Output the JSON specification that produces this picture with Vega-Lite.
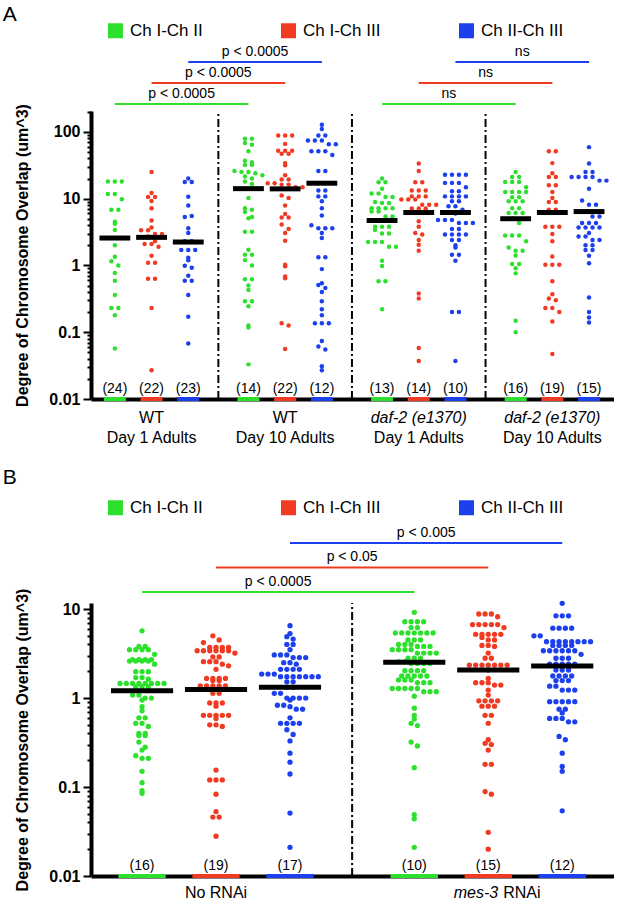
{
  "$schema": "https://vega.github.io/schema/vega-lite/v6.json",
  "padding": {"left": 2, "top": 4, "right": 0, "bottom": 0},
  "config": {
    "view": {"stroke": null},
    "font": "Liberation Sans",
    "text": {"color": "black"},
    "title": {"fontSize": 21, "fontWeight": "normal", "anchor": "start", "color": "black"}
  },
  "datasets": {
    "pA": [
      {"c":0,"v":18},{"c":0,"v":18},{"c":0,"v":18},{"c":0,"v":11.7},{"c":0,"v":11.7},{"c":0,"v":9.8},{"c":0,"v":6.8},{"c":0,"v":6.8},{"c":0,"v":4.5},{"c":0,"v":4.2},{"c":0,"v":3.4},{"c":0,"v":2.0},{"c":0,"v":1.35},{"c":0,"v":1.15},{"c":0,"v":1.0},{"c":0,"v":0.77},{"c":0,"v":0.59},{"c":0,"v":0.36},{"c":0,"v":0.23},{"c":0,"v":0.23},{"c":0,"v":0.18},{"c":0,"v":0.057},
      {"c":1,"v":25},{"c":1,"v":12.1},{"c":1,"v":10.6},{"c":1,"v":10.6},{"c":1,"v":9.2},{"c":1,"v":7.2},{"c":1,"v":4.7},{"c":1,"v":3.7},{"c":1,"v":3.35},{"c":1,"v":3.35},{"c":1,"v":2.95},{"c":1,"v":2.95},{"c":1,"v":2.7},{"c":1,"v":2.3},{"c":1,"v":2.1},{"c":1,"v":2.1},{"c":1,"v":1.9},{"c":1,"v":1.4},{"c":1,"v":1.1},{"c":1,"v":1.1},{"c":1,"v":0.63},{"c":1,"v":0.63},{"c":1,"v":0.23},{"c":1,"v":0.027},
      {"c":2,"v":20},{"c":2,"v":17.8},{"c":2,"v":17.8},{"c":2,"v":10.7},{"c":2,"v":7.9},{"c":2,"v":5.3},{"c":2,"v":5.5},{"c":2,"v":3.6},{"c":2,"v":3.05},{"c":2,"v":2.3},{"c":2,"v":2.3},{"c":2,"v":1.7},{"c":2,"v":1.7},{"c":2,"v":1.7},{"c":2,"v":1.3},{"c":2,"v":1.19},{"c":2,"v":0.99},{"c":2,"v":0.92},{"c":2,"v":0.7},{"c":2,"v":0.59},{"c":2,"v":0.59},{"c":2,"v":0.36},{"c":2,"v":0.17},{"c":2,"v":0.068},
      {"c":3,"v":79},{"c":3,"v":79},{"c":3,"v":68},{"c":3,"v":64},{"c":3,"v":51},{"c":3,"v":37},{"c":3,"v":35},{"c":3,"v":32},{"c":3,"v":32},{"c":3,"v":26},{"c":3,"v":25},{"c":3,"v":25},{"c":3,"v":24},{"c":3,"v":22.4},{"c":3,"v":21.4},{"c":3,"v":20},{"c":3,"v":18},{"c":3,"v":16.6},{"c":3,"v":10.2},{"c":3,"v":7.2},{"c":3,"v":6.8},{"c":3,"v":6.3},{"c":3,"v":5.1},{"c":3,"v":5.3},{"c":3,"v":3.2},{"c":3,"v":3.2},{"c":3,"v":1.72},{"c":3,"v":1.44},{"c":3,"v":1.44},{"c":3,"v":1.2},{"c":3,"v":1.0},{"c":3,"v":0.62},{"c":3,"v":0.62},{"c":3,"v":0.5},{"c":3,"v":0.43},{"c":3,"v":0.29},{"c":3,"v":0.29},{"c":3,"v":0.245},{"c":3,"v":0.126},{"c":3,"v":0.118},{"c":3,"v":0.033},
      {"c":4,"v":88},{"c":4,"v":88},{"c":4,"v":88},{"c":4,"v":66},{"c":4,"v":52},{"c":4,"v":52},{"c":4,"v":52},{"c":4,"v":47},{"c":4,"v":47},{"c":4,"v":34},{"c":4,"v":31.6},{"c":4,"v":22.4},{"c":4,"v":19.3},{"c":4,"v":19.3},{"c":4,"v":17},{"c":4,"v":17},{"c":4,"v":16.2},{"c":4,"v":16.2},{"c":4,"v":14.8},{"c":4,"v":14.8},{"c":4,"v":11.1},{"c":4,"v":10.2},{"c":4,"v":7.9},{"c":4,"v":5.9},{"c":4,"v":5.2},{"c":4,"v":5.2},{"c":4,"v":4.1},{"c":4,"v":3.5},{"c":4,"v":3.05},{"c":4,"v":2.34},{"c":4,"v":1.02},{"c":4,"v":0.97},{"c":4,"v":0.68},{"c":4,"v":0.64},{"c":4,"v":0.136},{"c":4,"v":0.126},{"c":4,"v":0.056},
      {"c":5,"v":128},{"c":5,"v":110},{"c":5,"v":88},{"c":5,"v":88},{"c":5,"v":74},{"c":5,"v":74},{"c":5,"v":74},{"c":5,"v":65},{"c":5,"v":65},{"c":5,"v":51},{"c":5,"v":51},{"c":5,"v":51},{"c":5,"v":45},{"c":5,"v":26},{"c":5,"v":26},{"c":5,"v":13.2},{"c":5,"v":13.2},{"c":5,"v":10.8},{"c":5,"v":10.8},{"c":5,"v":9.1},{"c":5,"v":7.2},{"c":5,"v":5.6},{"c":5,"v":4.0},{"c":5,"v":3.6},{"c":5,"v":3.6},{"c":5,"v":3.6},{"c":5,"v":3.05},{"c":5,"v":2.57},{"c":5,"v":1.32},{"c":5,"v":1.32},{"c":5,"v":0.88},{"c":5,"v":0.54},{"c":5,"v":0.51},{"c":5,"v":0.46},{"c":5,"v":0.40},{"c":5,"v":0.29},{"c":5,"v":0.22},{"c":5,"v":0.18},{"c":5,"v":0.136},{"c":5,"v":0.136},{"c":5,"v":0.136},{"c":5,"v":0.074},{"c":5,"v":0.061},{"c":5,"v":0.055},{"c":5,"v":0.031},{"c":5,"v":0.027},
      {"c":6,"v":20},{"c":6,"v":17.6},{"c":6,"v":17.6},{"c":6,"v":14.1},{"c":6,"v":11.9},{"c":6,"v":11.9},{"c":6,"v":10.6},{"c":6,"v":10.6},{"c":6,"v":8.9},{"c":6,"v":8.6},{"c":6,"v":8.6},{"c":6,"v":7.2},{"c":6,"v":7.2},{"c":6,"v":7.2},{"c":6,"v":7.2},{"c":6,"v":6.4},{"c":6,"v":6.4},{"c":6,"v":5.4},{"c":6,"v":5.4},{"c":6,"v":3.8},{"c":6,"v":3.8},{"c":6,"v":3.8},{"c":6,"v":3.4},{"c":6,"v":3.0},{"c":6,"v":3.0},{"c":6,"v":2.24},{"c":6,"v":2.24},{"c":6,"v":2.24},{"c":6,"v":1.9},{"c":6,"v":1.9},{"c":6,"v":1.17},{"c":6,"v":0.98},{"c":6,"v":0.58},{"c":6,"v":0.58},{"c":6,"v":0.22},
      {"c":7,"v":33.5},{"c":7,"v":26},{"c":7,"v":17.6},{"c":7,"v":17.6},{"c":7,"v":13.2},{"c":7,"v":13.2},{"c":7,"v":13.2},{"c":7,"v":10.8},{"c":7,"v":10.8},{"c":7,"v":10.8},{"c":7,"v":9.7},{"c":7,"v":9.7},{"c":7,"v":9.7},{"c":7,"v":8.1},{"c":7,"v":8.1},{"c":7,"v":8.1},{"c":7,"v":7.1},{"c":7,"v":7.1},{"c":7,"v":7.1},{"c":7,"v":6.3},{"c":7,"v":6.3},{"c":7,"v":4.6},{"c":7,"v":3.8},{"c":7,"v":3.05},{"c":7,"v":2.9},{"c":7,"v":2.4},{"c":7,"v":2.04},{"c":7,"v":1.66},{"c":7,"v":0.38},{"c":7,"v":0.32},{"c":7,"v":0.058},{"c":7,"v":0.037},
      {"c":8,"v":22.7},{"c":8,"v":22.7},{"c":8,"v":22.7},{"c":8,"v":22.7},{"c":8,"v":17.2},{"c":8,"v":17.2},{"c":8,"v":17.2},{"c":8,"v":14.8},{"c":8,"v":12.9},{"c":8,"v":12.9},{"c":8,"v":10.8},{"c":8,"v":10.8},{"c":8,"v":10.8},{"c":8,"v":10.8},{"c":8,"v":9.1},{"c":8,"v":9.1},{"c":8,"v":7.7},{"c":8,"v":7.7},{"c":8,"v":6.8},{"c":8,"v":6.0},{"c":8,"v":4.8},{"c":8,"v":4.8},{"c":8,"v":4.8},{"c":8,"v":4.3},{"c":8,"v":4.3},{"c":8,"v":4.3},{"c":8,"v":3.5},{"c":8,"v":3.5},{"c":8,"v":2.9},{"c":8,"v":2.9},{"c":8,"v":2.9},{"c":8,"v":2.9},{"c":8,"v":2.4},{"c":8,"v":2.4},{"c":8,"v":2.0},{"c":8,"v":1.86},{"c":8,"v":1.44},{"c":8,"v":1.44},{"c":8,"v":1.17},{"c":8,"v":0.2},{"c":8,"v":0.2},{"c":8,"v":0.037},
      {"c":9,"v":25},{"c":9,"v":21},{"c":9,"v":21},{"c":9,"v":17.8},{"c":9,"v":17.8},{"c":9,"v":17.8},{"c":9,"v":14.8},{"c":9,"v":12.6},{"c":9,"v":12.6},{"c":9,"v":12.6},{"c":9,"v":12.6},{"c":9,"v":10.5},{"c":9,"v":10.5},{"c":9,"v":9.1},{"c":9,"v":9.1},{"c":9,"v":9.1},{"c":9,"v":7.2},{"c":9,"v":7.2},{"c":9,"v":6.1},{"c":9,"v":6.1},{"c":9,"v":6.1},{"c":9,"v":5.1},{"c":9,"v":4.3},{"c":9,"v":2.8},{"c":9,"v":2.8},{"c":9,"v":2.8},{"c":9,"v":2.3},{"c":9,"v":1.86},{"c":9,"v":1.66},{"c":9,"v":1.66},{"c":9,"v":1.41},{"c":9,"v":1.05},{"c":9,"v":1.05},{"c":9,"v":0.91},{"c":9,"v":0.76},{"c":9,"v":0.148},{"c":9,"v":0.10},
      {"c":10,"v":51},{"c":10,"v":51},{"c":10,"v":34},{"c":10,"v":24},{"c":10,"v":21},{"c":10,"v":21},{"c":10,"v":15.8},{"c":10,"v":15.8},{"c":10,"v":12.6},{"c":10,"v":10.2},{"c":10,"v":8.9},{"c":10,"v":8.9},{"c":10,"v":6.8},{"c":10,"v":6.8},{"c":10,"v":3.8},{"c":10,"v":3.8},{"c":10,"v":3.8},{"c":10,"v":2.95},{"c":10,"v":2.3},{"c":10,"v":1.36},{"c":10,"v":1.02},{"c":10,"v":1.02},{"c":10,"v":1.02},{"c":10,"v":0.58},{"c":10,"v":0.37},{"c":10,"v":0.32},{"c":10,"v":0.30},{"c":10,"v":0.23},{"c":10,"v":0.23},{"c":10,"v":0.2},{"c":10,"v":0.145},{"c":10,"v":0.047},
      {"c":11,"v":59},{"c":11,"v":33.5},{"c":11,"v":25},{"c":11,"v":25},{"c":11,"v":21},{"c":11,"v":21},{"c":11,"v":21},{"c":11,"v":21},{"c":11,"v":18.6},{"c":11,"v":18.6},{"c":11,"v":14},{"c":11,"v":9.4},{"c":11,"v":8.1},{"c":11,"v":8.1},{"c":11,"v":6.4},{"c":11,"v":6.4},{"c":11,"v":5.4},{"c":11,"v":5.4},{"c":11,"v":4.3},{"c":11,"v":4.3},{"c":11,"v":4.3},{"c":11,"v":3.7},{"c":11,"v":3.7},{"c":11,"v":3.7},{"c":11,"v":3.7},{"c":11,"v":3.05},{"c":11,"v":2.7},{"c":11,"v":2.7},{"c":11,"v":2.4},{"c":11,"v":2.4},{"c":11,"v":2.0},{"c":11,"v":2.0},{"c":11,"v":1.7},{"c":11,"v":1.7},{"c":11,"v":1.4},{"c":11,"v":1.08},{"c":11,"v":0.33},{"c":11,"v":0.2},{"c":11,"v":0.166},{"c":11,"v":0.14}
    ],
    "pB": [
      {"c":0,"v":5.7},{"c":0,"v":3.8},{"c":0,"v":3.8},{"c":0,"v":3.5},{"c":0,"v":3.5},{"c":0,"v":3.5},{"c":0,"v":3.5},{"c":0,"v":3.1},{"c":0,"v":2.7},{"c":0,"v":2.7},{"c":0,"v":2.7},{"c":0,"v":2.7},{"c":0,"v":2.6},{"c":0,"v":2.6},{"c":0,"v":2.6},{"c":0,"v":2.6},{"c":0,"v":2.4},{"c":0,"v":1.98},{"c":0,"v":1.98},{"c":0,"v":1.98},{"c":0,"v":1.7},{"c":0,"v":1.7},{"c":0,"v":1.63},{"c":0,"v":1.46},{"c":0,"v":1.46},{"c":0,"v":1.46},{"c":0,"v":1.46},{"c":0,"v":1.46},{"c":0,"v":1.46},{"c":0,"v":1.46},{"c":0,"v":1.46},{"c":0,"v":1.34},{"c":0,"v":1.34},{"c":0,"v":1.34},{"c":0,"v":1.08},{"c":0,"v":1.08},{"c":0,"v":1.0},{"c":0,"v":1.0},{"c":0,"v":0.95},{"c":0,"v":0.8},{"c":0,"v":0.72},{"c":0,"v":0.6},{"c":0,"v":0.6},{"c":0,"v":0.52},{"c":0,"v":0.52},{"c":0,"v":0.48},{"c":0,"v":0.4},{"c":0,"v":0.4},{"c":0,"v":0.38},{"c":0,"v":0.38},{"c":0,"v":0.32},{"c":0,"v":0.28},{"c":0,"v":0.26},{"c":0,"v":0.225},{"c":0,"v":0.21},{"c":0,"v":0.21},{"c":0,"v":0.15},{"c":0,"v":0.112},{"c":0,"v":0.091},{"c":0,"v":0.085},
      {"c":1,"v":5.0},{"c":1,"v":4.5},{"c":1,"v":4.2},{"c":1,"v":3.7},{"c":1,"v":3.7},{"c":1,"v":3.7},{"c":1,"v":3.7},{"c":1,"v":3.4},{"c":1,"v":3.4},{"c":1,"v":3.4},{"c":1,"v":3.4},{"c":1,"v":3.4},{"c":1,"v":3.4},{"c":1,"v":3.2},{"c":1,"v":2.9},{"c":1,"v":2.9},{"c":1,"v":2.56},{"c":1,"v":2.56},{"c":1,"v":2.56},{"c":1,"v":2.4},{"c":1,"v":2.3},{"c":1,"v":2.1},{"c":1,"v":1.66},{"c":1,"v":1.66},{"c":1,"v":1.66},{"c":1,"v":1.66},{"c":1,"v":1.57},{"c":1,"v":1.57},{"c":1,"v":1.37},{"c":1,"v":1.37},{"c":1,"v":1.37},{"c":1,"v":1.37},{"c":1,"v":1.37},{"c":1,"v":1.25},{"c":1,"v":1.13},{"c":1,"v":1.13},{"c":1,"v":0.88},{"c":1,"v":0.88},{"c":1,"v":0.88},{"c":1,"v":0.81},{"c":1,"v":0.64},{"c":1,"v":0.64},{"c":1,"v":0.64},{"c":1,"v":0.64},{"c":1,"v":0.64},{"c":1,"v":0.59},{"c":1,"v":0.5},{"c":1,"v":0.5},{"c":1,"v":0.48},{"c":1,"v":0.155},{"c":1,"v":0.12},{"c":1,"v":0.12},{"c":1,"v":0.12},{"c":1,"v":0.083},{"c":1,"v":0.053},{"c":1,"v":0.046},{"c":1,"v":0.046},{"c":1,"v":0.028},
      {"c":2,"v":6.5},{"c":2,"v":5.3},{"c":2,"v":4.9},{"c":2,"v":4.6},{"c":2,"v":4.0},{"c":2,"v":4.0},{"c":2,"v":3.5},{"c":2,"v":3.05},{"c":2,"v":3.05},{"c":2,"v":3.05},{"c":2,"v":2.85},{"c":2,"v":2.85},{"c":2,"v":2.85},{"c":2,"v":2.5},{"c":2,"v":2.5},{"c":2,"v":2.4},{"c":2,"v":2.1},{"c":2,"v":2.1},{"c":2,"v":2.1},{"c":2,"v":2.1},{"c":2,"v":1.86},{"c":2,"v":1.86},{"c":2,"v":1.86},{"c":2,"v":1.74},{"c":2,"v":1.74},{"c":2,"v":1.74},{"c":2,"v":1.74},{"c":2,"v":1.74},{"c":2,"v":1.74},{"c":2,"v":1.74},{"c":2,"v":1.52},{"c":2,"v":1.52},{"c":2,"v":1.32},{"c":2,"v":1.32},{"c":2,"v":1.13},{"c":2,"v":1.13},{"c":2,"v":1.0},{"c":2,"v":1.0},{"c":2,"v":1.0},{"c":2,"v":1.0},{"c":2,"v":0.95},{"c":2,"v":0.83},{"c":2,"v":0.83},{"c":2,"v":0.8},{"c":2,"v":0.75},{"c":2,"v":0.75},{"c":2,"v":0.6},{"c":2,"v":0.52},{"c":2,"v":0.52},{"c":2,"v":0.52},{"c":2,"v":0.52},{"c":2,"v":0.44},{"c":2,"v":0.39},{"c":2,"v":0.33},{"c":2,"v":0.24},{"c":2,"v":0.19},{"c":2,"v":0.14},{"c":2,"v":0.051},{"c":2,"v":0.021},
      {"c":3,"v":9.2},{"c":3,"v":7.2},{"c":3,"v":7.2},{"c":3,"v":7.2},{"c":3,"v":7.2},{"c":3,"v":6.2},{"c":3,"v":6.2},{"c":3,"v":5.4},{"c":3,"v":5.4},{"c":3,"v":5.4},{"c":3,"v":5.4},{"c":3,"v":5.4},{"c":3,"v":5.4},{"c":3,"v":5.4},{"c":3,"v":4.5},{"c":3,"v":4.5},{"c":3,"v":4.5},{"c":3,"v":4.0},{"c":3,"v":4.0},{"c":3,"v":4.0},{"c":3,"v":3.8},{"c":3,"v":3.8},{"c":3,"v":3.8},{"c":3,"v":3.5},{"c":3,"v":3.5},{"c":3,"v":3.5},{"c":3,"v":3.5},{"c":3,"v":3.2},{"c":3,"v":3.2},{"c":3,"v":3.2},{"c":3,"v":3.2},{"c":3,"v":2.8},{"c":3,"v":2.8},{"c":3,"v":2.8},{"c":3,"v":2.57},{"c":3,"v":2.57},{"c":3,"v":2.45},{"c":3,"v":2.45},{"c":3,"v":2.45},{"c":3,"v":2.45},{"c":3,"v":2.03},{"c":3,"v":2.03},{"c":3,"v":2.03},{"c":3,"v":2.03},{"c":3,"v":1.77},{"c":3,"v":1.77},{"c":3,"v":1.77},{"c":3,"v":1.77},{"c":3,"v":1.77},{"c":3,"v":1.6},{"c":3,"v":1.6},{"c":3,"v":1.6},{"c":3,"v":1.49},{"c":3,"v":1.49},{"c":3,"v":1.49},{"c":3,"v":1.28},{"c":3,"v":1.28},{"c":3,"v":1.28},{"c":3,"v":1.28},{"c":3,"v":1.28},{"c":3,"v":1.18},{"c":3,"v":1.18},{"c":3,"v":1.18},{"c":3,"v":1.05},{"c":3,"v":0.77},{"c":3,"v":0.64},{"c":3,"v":0.58},{"c":3,"v":0.52},{"c":3,"v":0.49},{"c":3,"v":0.32},{"c":3,"v":0.29},{"c":3,"v":0.165},{"c":3,"v":0.049},{"c":3,"v":0.044},{"c":3,"v":0.021},
      {"c":4,"v":8.8},{"c":4,"v":8.8},{"c":4,"v":8.8},{"c":4,"v":8.2},{"c":4,"v":6.7},{"c":4,"v":6.7},{"c":4,"v":6.7},{"c":4,"v":6.7},{"c":4,"v":6.7},{"c":4,"v":6.2},{"c":4,"v":5.2},{"c":4,"v":5.2},{"c":4,"v":5.2},{"c":4,"v":5.2},{"c":4,"v":5.2},{"c":4,"v":4.8},{"c":4,"v":4.5},{"c":4,"v":4.5},{"c":4,"v":3.9},{"c":4,"v":3.9},{"c":4,"v":3.8},{"c":4,"v":3.2},{"c":4,"v":2.8},{"c":4,"v":2.8},{"c":4,"v":2.35},{"c":4,"v":2.35},{"c":4,"v":2.35},{"c":4,"v":2.35},{"c":4,"v":2.35},{"c":4,"v":2.35},{"c":4,"v":2.35},{"c":4,"v":2.06},{"c":4,"v":1.66},{"c":4,"v":1.49},{"c":4,"v":1.49},{"c":4,"v":1.49},{"c":4,"v":1.4},{"c":4,"v":1.4},{"c":4,"v":1.23},{"c":4,"v":1.08},{"c":4,"v":0.93},{"c":4,"v":0.93},{"c":4,"v":0.93},{"c":4,"v":0.93},{"c":4,"v":0.81},{"c":4,"v":0.81},{"c":4,"v":0.81},{"c":4,"v":0.64},{"c":4,"v":0.64},{"c":4,"v":0.52},{"c":4,"v":0.34},{"c":4,"v":0.31},{"c":4,"v":0.3},{"c":4,"v":0.26},{"c":4,"v":0.18},{"c":4,"v":0.18},{"c":4,"v":0.089},{"c":4,"v":0.083},{"c":4,"v":0.031},{"c":4,"v":0.02},
      {"c":5,"v":11.6},{"c":5,"v":8.4},{"c":5,"v":8.4},{"c":5,"v":8.4},{"c":5,"v":6.1},{"c":5,"v":6.1},{"c":5,"v":6.1},{"c":5,"v":6.1},{"c":5,"v":5.0},{"c":5,"v":5.0},{"c":5,"v":4.3},{"c":5,"v":4.3},{"c":5,"v":4.3},{"c":5,"v":4.3},{"c":5,"v":4.3},{"c":5,"v":4.3},{"c":5,"v":4.3},{"c":5,"v":4.3},{"c":5,"v":3.9},{"c":5,"v":3.9},{"c":5,"v":3.9},{"c":5,"v":3.9},{"c":5,"v":3.4},{"c":5,"v":3.4},{"c":5,"v":3.4},{"c":5,"v":3.4},{"c":5,"v":3.4},{"c":5,"v":3.4},{"c":5,"v":3.1},{"c":5,"v":2.8},{"c":5,"v":2.8},{"c":5,"v":2.8},{"c":5,"v":2.4},{"c":5,"v":2.4},{"c":5,"v":2.4},{"c":5,"v":2.4},{"c":5,"v":2.4},{"c":5,"v":2.06},{"c":5,"v":2.06},{"c":5,"v":2.06},{"c":5,"v":1.77},{"c":5,"v":1.77},{"c":5,"v":1.77},{"c":5,"v":1.77},{"c":5,"v":1.57},{"c":5,"v":1.57},{"c":5,"v":1.57},{"c":5,"v":1.36},{"c":5,"v":1.36},{"c":5,"v":1.23},{"c":5,"v":1.23},{"c":5,"v":1.23},{"c":5,"v":0.91},{"c":5,"v":0.91},{"c":5,"v":0.91},{"c":5,"v":0.91},{"c":5,"v":0.91},{"c":5,"v":0.75},{"c":5,"v":0.75},{"c":5,"v":0.68},{"c":5,"v":0.59},{"c":5,"v":0.59},{"c":5,"v":0.59},{"c":5,"v":0.54},{"c":5,"v":0.54},{"c":5,"v":0.37},{"c":5,"v":0.34},{"c":5,"v":0.24},{"c":5,"v":0.17},{"c":5,"v":0.15},{"c":5,"v":0.054}
    ],
    "cA": [
      {"c":0,"m":2.57,"n":24},{"c":1,"m":2.63,"n":22},{"c":2,"m":2.24,"n":23},
      {"c":3,"m":14.1,"n":14},{"c":4,"m":14,"n":22},{"c":5,"m":17,"n":12},
      {"c":6,"m":4.7,"n":13},{"c":7,"m":6.2,"n":14},{"c":8,"m":6.2,"n":10},
      {"c":9,"m":5.0,"n":16},{"c":10,"m":6.2,"n":19},{"c":11,"m":6.4,"n":15}
    ],
    "cB": [
      {"c":0,"m":1.21,"n":16},{"c":1,"m":1.25,"n":19},{"c":2,"m":1.32,"n":17},
      {"c":3,"m":2.52,"n":10},{"c":4,"m":2.07,"n":15},{"c":5,"m":2.29,"n":12}
    ],
    "sA": [
      {"a":0,"b":1,"p":0,"t":"p < 0.0005"},{"a":0,"b":1,"p":1,"t":"p < 0.0005"},{"a":0,"b":1,"p":2,"t":"p < 0.0005"},
      {"a":2,"b":3,"p":0,"t":"ns"},{"a":2,"b":3,"p":1,"t":"ns"},{"a":2,"b":3,"p":2,"t":"ns"}
    ],
    "sB": [
      {"a":0,"b":1,"p":0,"t":"p < 0.0005"},{"a":0,"b":1,"p":1,"t":"p < 0.05"},{"a":0,"b":1,"p":2,"t":"p < 0.005"}
    ],
    "gA": [
      {"g":0,"l1":"WT","l2":"Day 1 Adults"},{"g":1,"l1":"WT","l2":"Day 10 Adults"},
      {"g":2,"l1":"daf-2 (e1370)","l2":"Day 1 Adults"},{"g":3,"l1":"daf-2 (e1370)","l2":"Day 10 Adults"}
    ],
    "gB": [
      {"g":0,"l1":"No RNAi","l2":""},{"g":1,"l1":"mes-3","l2":"RNAi"}
    ]
  },
  "spacing": 21,
  "resolve": {"legend": {"color": "independent"}},
  "vconcat": [
    {
      "title": {"text": "A", "dx": -12, "offset": -3},
      "bounds": "flush",
      "spacing": 0,
      "resolve": {"legend": {"color": "independent"}},
      "vconcat": [
        {
          "width": 523,
          "height": 49,
          "data": {"name": "sA"},
          "transform": [
            {"calculate": "datum.a*3.64 + datum.p", "as": "x"},
            {"calculate": "datum.b*3.64 + datum.p", "as": "x2"},
            {"calculate": "(datum.x + datum.x2)/2", "as": "xm"},
            {"calculate": "datum.p + 1", "as": "lvl"},
            {"calculate": "['Ch I-Ch II','Ch I-Ch III','Ch II-Ch III'][datum.p]", "as": "pair"}
          ],
          "encoding": {
            "y": {"field": "lvl", "type": "quantitative", "scale": {"domain": [0.667, 3], "nice": false, "zero": false}, "axis": null}
          },
          "layer": [
            {
              "mark": {"type": "rule", "strokeWidth": 2},
              "encoding": {
                "x": {"field": "x", "type": "quantitative", "scale": {"domain": [-0.65, 13.6], "nice": false, "zero": false}, "axis": null},
                "x2": {"field": "x2"},
                "color": {"field": "pair", "type": "nominal", "scale": {"domain": ["Ch I-Ch II", "Ch I-Ch III", "Ch II-Ch III"], "range": ["#2EE02E", "#F03A22", "#1C40EE"]}, "legend": null}
              }
            },
            {
              "mark": {"type": "text", "fontSize": 14, "dy": -10},
              "encoding": {
                "x": {"field": "xm", "type": "quantitative", "axis": null},
                "text": {"field": "t"}
              }
            }
          ]
        },
        {
          "width": 523,
          "height": 288,
          "encoding": {
            "x": {"field": "x", "type": "quantitative", "scale": {"domain": [-0.65, 13.6], "nice": false, "zero": false},
              "axis": {"labels": false, "ticks": false, "title": null, "domainWidth": 4, "domainColor": "black", "grid": false}},
            "y": {"field": "y", "type": "quantitative", "title": "Degree of Chromosome Overlap (um^3)",
              "scale": {"type": "log", "domain": [0.01, 205], "nice": false},
              "axis": {
                "values": [0.01,0.02,0.03,0.04,0.05,0.06,0.07,0.08,0.09,0.1,0.2,0.3,0.4,0.5,0.6,0.7,0.8,0.9,1,2,3,4,5,6,7,8,9,10,20,30,40,50,60,70,80,90,100,200],
                "labelExpr": "indexof([0.01,0.1,1,10,100], datum.value) < 0 ? '' : (datum.value >= 1 ? format(datum.value, 'd') : format(datum.value, '~g'))",
                "tickSize": {"condition": {"test": "indexof([0.01,0.1,1,10,100], datum.value) >= 0", "value": 8}, "value": 4},
                "tickWidth": 2, "tickColor": "black", "domainWidth": 4, "domainColor": "black",
                "labelFontSize": 16, "labelFontWeight": "bold", "labelColor": "black", "labelPadding": 3, "labelOverlap": false,
                "titleFontSize": 16, "titleFontWeight": "bold", "titleColor": "black", "titlePadding": 18, "grid": false
              }
            }
          },
          "layer": [
            {
              "data": {"name": "gA"},
              "transform": [
                {"filter": "datum.g > 0"},
                {"calculate": "datum.g*3.64 - 0.82", "as": "x"},
                {"calculate": "0.01", "as": "y"},
                {"calculate": "205", "as": "y2"}
              ],
              "mark": {"type": "rule", "strokeWidth": 2, "strokeDash": [8, 3, 2, 3], "color": "black"},
              "encoding": {"y2": {"field": "y2"}}
            },
            {
              "data": {"name": "pA"},
              "transform": [
                {"calculate": "floor(log(datum.v)/LN10/0.09)", "as": "b"},
                {"window": [{"op": "row_number", "as": "rn"}, {"op": "count", "as": "n"}], "groupby": ["c", "b"], "frame": [null, null]},
                {"calculate": "floor(datum.c/3)*3.64 + datum.c%3 + (datum.rn - (datum.n+1)/2)*0.19", "as": "x"},
                {"calculate": "datum.v", "as": "y"},
                {"calculate": "['Ch I-Ch II','Ch I-Ch III','Ch II-Ch III'][datum.c%3]", "as": "pair"}
              ],
              "mark": {"type": "circle", "size": 20, "opacity": 1},
              "encoding": {
                "color": {"field": "pair", "type": "nominal", "scale": {"domain": ["Ch I-Ch II", "Ch I-Ch III", "Ch II-Ch III"], "range": ["#2EE02E", "#F03A22", "#1C40EE"]},
                  "legend": {"orient": "none", "legendX": 16, "legendY": -89, "direction": "horizontal", "title": null, "symbolType": "square", "symbolSize": 225, "symbolStrokeWidth": 0, "symbolOpacity": 1, "labelFontSize": 17, "labelColor": "black", "labelOffset": 6, "columnPadding": 77, "padding": 0}}
              }
            },
            {
              "data": {"name": "cA"},
              "transform": [
                {"calculate": "floor(datum.c/3)*3.64 + datum.c%3", "as": "cx"},
                {"calculate": "datum.cx - 0.42", "as": "x"},
                {"calculate": "datum.cx + 0.42", "as": "x2"},
                {"calculate": "datum.m", "as": "y"}
              ],
              "mark": {"type": "rule", "strokeWidth": 5, "color": "black"},
              "encoding": {"x2": {"field": "x2"}}
            },
            {
              "data": {"name": "cA"},
              "transform": [
                {"calculate": "floor(datum.c/3)*3.64 + datum.c%3", "as": "cx"},
                {"calculate": "datum.cx - 0.3", "as": "x"},
                {"calculate": "datum.cx + 0.3", "as": "x2"},
                {"calculate": "0.01", "as": "y"},
                {"calculate": "['Ch I-Ch II','Ch I-Ch III','Ch II-Ch III'][datum.c%3]", "as": "pair"}
              ],
              "mark": {"type": "rule", "strokeWidth": 4},
              "encoding": {
                "x2": {"field": "x2"},
                "color": {"field": "pair", "type": "nominal", "legend": null}
              }
            },
            {
              "data": {"name": "cA"},
              "transform": [
                {"calculate": "floor(datum.c/3)*3.64 + datum.c%3", "as": "x"},
                {"calculate": "0.01", "as": "y"},
                {"calculate": "'(' + datum.n + ')'", "as": "lab"}
              ],
              "mark": {"type": "text", "fontSize": 14, "baseline": "bottom", "dy": -3},
              "encoding": {"text": {"field": "lab"}}
            },
            {
              "data": {"name": "gA"},
              "transform": [
                {"filter": "datum.l1 == 'WT'"},
                {"calculate": "datum.g*3.64 + 1", "as": "x"},
                {"calculate": "0.01", "as": "y"}
              ],
              "mark": {"type": "text", "fontSize": 16, "baseline": "middle", "dy": 19},
              "encoding": {"text": {"field": "l1"}}
            },
            {
              "data": {"name": "gA"},
              "transform": [
                {"filter": "datum.l1 != 'WT'"},
                {"calculate": "datum.g*3.64 + 1", "as": "x"},
                {"calculate": "0.01", "as": "y"}
              ],
              "mark": {"type": "text", "fontSize": 16, "fontStyle": "italic", "baseline": "middle", "dy": 19},
              "encoding": {"text": {"field": "l1"}}
            },
            {
              "data": {"name": "gA"},
              "transform": [
                {"calculate": "datum.g*3.64 + 1", "as": "x"},
                {"calculate": "0.01", "as": "y"}
              ],
              "mark": {"type": "text", "fontSize": 16, "baseline": "middle", "dy": 39},
              "encoding": {"text": {"field": "l2"}}
            }
          ]
        }
      ]
    },
    {
      "title": {"text": "B", "dx": -12, "offset": 11},
      "bounds": "flush",
      "spacing": 0,
      "resolve": {"legend": {"color": "independent"}},
      "vconcat": [
        {
          "width": 523,
          "height": 60,
          "data": {"name": "sB"},
          "transform": [
            {"calculate": "datum.a*3.68 + datum.p", "as": "x"},
            {"calculate": "datum.b*3.68 + datum.p", "as": "x2"},
            {"calculate": "(datum.x + datum.x2)/2", "as": "xm"},
            {"calculate": "datum.p + 1", "as": "lvl"},
            {"calculate": "['Ch I-Ch II','Ch I-Ch III','Ch II-Ch III'][datum.p]", "as": "pair"}
          ],
          "encoding": {
            "y": {"field": "lvl", "type": "quantitative", "scale": {"domain": [0.551, 3], "nice": false, "zero": false}, "axis": null}
          },
          "layer": [
            {
              "mark": {"type": "rule", "strokeWidth": 2},
              "encoding": {
                "x": {"field": "x", "type": "quantitative", "scale": {"domain": [-0.69, 6.38], "nice": false, "zero": false}, "axis": null},
                "x2": {"field": "x2"},
                "color": {"field": "pair", "type": "nominal", "scale": {"domain": ["Ch I-Ch II", "Ch I-Ch III", "Ch II-Ch III"], "range": ["#2EE02E", "#F03A22", "#1C40EE"]}, "legend": null}
              }
            },
            {
              "mark": {"type": "text", "fontSize": 14, "dy": -10},
              "encoding": {
                "x": {"field": "xm", "type": "quantitative", "axis": null},
                "text": {"field": "t"}
              }
            }
          ]
        },
        {
          "width": 523,
          "height": 273,
          "encoding": {
            "x": {"field": "x", "type": "quantitative", "scale": {"domain": [-0.69, 6.38], "nice": false, "zero": false},
              "axis": {"labels": false, "ticks": false, "title": null, "domainWidth": 4, "domainColor": "black", "grid": false}},
            "y": {"field": "y", "type": "quantitative", "title": "Degree of Chromosome Overlap (um^3)",
              "scale": {"type": "log", "domain": [0.01, 11.7], "nice": false},
              "axis": {
                "values": [0.01,0.02,0.03,0.04,0.05,0.06,0.07,0.08,0.09,0.1,0.2,0.3,0.4,0.5,0.6,0.7,0.8,0.9,1,2,3,4,5,6,7,8,9,10],
                "labelExpr": "indexof([0.01,0.1,1,10], datum.value) < 0 ? '' : (datum.value >= 1 ? format(datum.value, 'd') : format(datum.value, '~g'))",
                "tickSize": {"condition": {"test": "indexof([0.01,0.1,1,10], datum.value) >= 0", "value": 8}, "value": 4},
                "tickWidth": 2, "tickColor": "black", "domainWidth": 4, "domainColor": "black",
                "labelFontSize": 16, "labelFontWeight": "bold", "labelColor": "black", "labelPadding": 3, "labelOverlap": false,
                "titleFontSize": 16, "titleFontWeight": "bold", "titleColor": "black", "titlePadding": 18, "grid": false
              }
            }
          },
          "layer": [
            {
              "data": {"name": "gB"},
              "transform": [
                {"filter": "datum.g > 0"},
                {"calculate": "datum.g*3.68 - 0.84", "as": "x"},
                {"calculate": "0.01", "as": "y"},
                {"calculate": "11.7", "as": "y2"}
              ],
              "mark": {"type": "rule", "strokeWidth": 2, "strokeDash": [8, 3, 2, 3], "color": "black"},
              "encoding": {"y2": {"field": "y2"}}
            },
            {
              "data": {"name": "pB"},
              "transform": [
                {"calculate": "floor(log(datum.v)/LN10/0.07)", "as": "b"},
                {"window": [{"op": "row_number", "as": "rn"}, {"op": "count", "as": "n"}], "groupby": ["c", "b"], "frame": [null, null]},
                {"calculate": "floor(datum.c/3)*3.68 + datum.c%3 + (datum.rn - (datum.n+1)/2)*0.085", "as": "x"},
                {"calculate": "datum.v", "as": "y"},
                {"calculate": "['Ch I-Ch II','Ch I-Ch III','Ch II-Ch III'][datum.c%3]", "as": "pair"}
              ],
              "mark": {"type": "circle", "size": 28, "opacity": 1},
              "encoding": {
                "color": {"field": "pair", "type": "nominal", "scale": {"domain": ["Ch I-Ch II", "Ch I-Ch III", "Ch II-Ch III"], "range": ["#2EE02E", "#F03A22", "#1C40EE"]},
                  "legend": {"orient": "none", "legendX": 16, "legendY": -104, "direction": "horizontal", "title": null, "symbolType": "square", "symbolSize": 225, "symbolStrokeWidth": 0, "symbolOpacity": 1, "labelFontSize": 17, "labelColor": "black", "labelOffset": 6, "columnPadding": 77, "padding": 0}}
              }
            },
            {
              "data": {"name": "cB"},
              "transform": [
                {"calculate": "floor(datum.c/3)*3.68 + datum.c%3", "as": "cx"},
                {"calculate": "datum.cx - 0.42", "as": "x"},
                {"calculate": "datum.cx + 0.42", "as": "x2"},
                {"calculate": "datum.m", "as": "y"}
              ],
              "mark": {"type": "rule", "strokeWidth": 5, "color": "black"},
              "encoding": {"x2": {"field": "x2"}}
            },
            {
              "data": {"name": "cB"},
              "transform": [
                {"calculate": "floor(datum.c/3)*3.68 + datum.c%3", "as": "cx"},
                {"calculate": "datum.cx - 0.32", "as": "x"},
                {"calculate": "datum.cx + 0.32", "as": "x2"},
                {"calculate": "0.01", "as": "y"},
                {"calculate": "['Ch I-Ch II','Ch I-Ch III','Ch II-Ch III'][datum.c%3]", "as": "pair"}
              ],
              "mark": {"type": "rule", "strokeWidth": 4},
              "encoding": {
                "x2": {"field": "x2"},
                "color": {"field": "pair", "type": "nominal", "legend": null}
              }
            },
            {
              "data": {"name": "cB"},
              "transform": [
                {"calculate": "floor(datum.c/3)*3.68 + datum.c%3", "as": "x"},
                {"calculate": "0.01", "as": "y"},
                {"calculate": "'(' + datum.n + ')'", "as": "lab"}
              ],
              "mark": {"type": "text", "fontSize": 14, "baseline": "bottom", "dy": -3},
              "encoding": {"text": {"field": "lab"}}
            },
            {
              "data": {"name": "gB"},
              "transform": [
                {"filter": "datum.g == 0"},
                {"calculate": "datum.g*3.68 + 1", "as": "x"},
                {"calculate": "0.01", "as": "y"}
              ],
              "mark": {"type": "text", "fontSize": 16, "baseline": "middle", "dy": 17},
              "encoding": {"text": {"field": "l1"}}
            },
            {
              "data": {"name": "gB"},
              "transform": [
                {"filter": "datum.g == 1"},
                {"calculate": "datum.g*3.68 + 1", "as": "x"},
                {"calculate": "0.01", "as": "y"}
              ],
              "mark": {"type": "text", "fontSize": 16, "fontStyle": "italic", "baseline": "middle", "align": "right", "dy": 17, "dx": 10},
              "encoding": {"text": {"field": "l1"}}
            },
            {
              "data": {"name": "gB"},
              "transform": [
                {"filter": "datum.g == 1"},
                {"calculate": "datum.g*3.68 + 1", "as": "x"},
                {"calculate": "0.01", "as": "y"}
              ],
              "mark": {"type": "text", "fontSize": 16, "baseline": "middle", "align": "left", "dy": 17, "dx": 15},
              "encoding": {"text": {"field": "l2"}}
            }
          ]
        }
      ]
    }
  ]
}
